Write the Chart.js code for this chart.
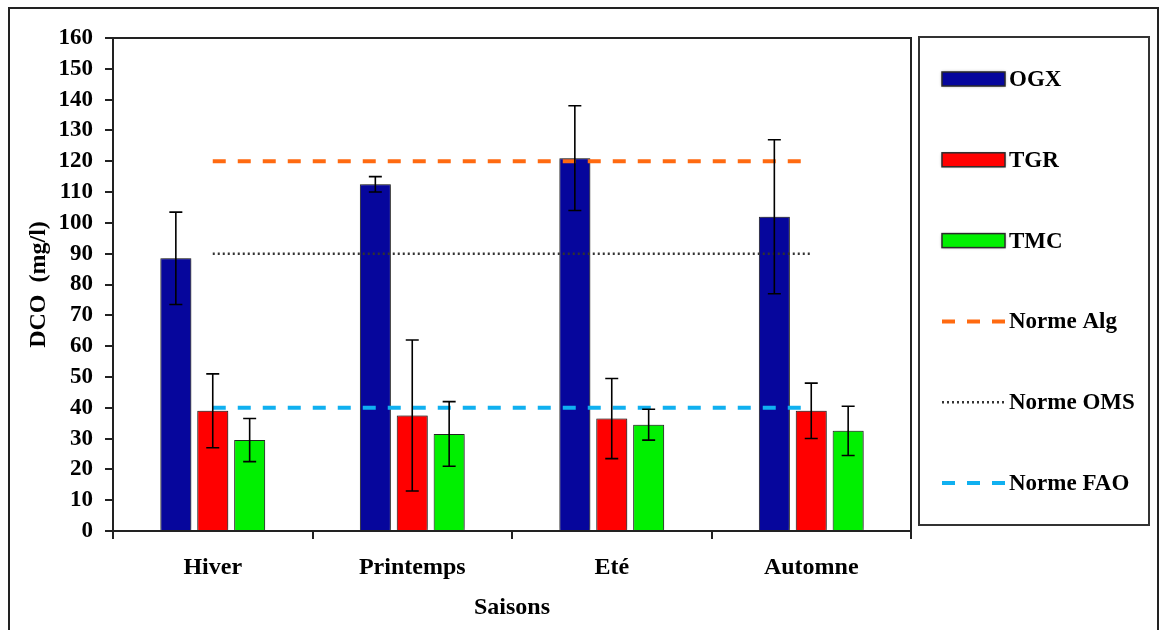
<!DOCTYPE html>
<html>
<head>
<meta charset="utf-8">
<script src="https://cdn.jsdelivr.net/npm/chart.js@4.4.1/dist/chart.umd.min.js"></script>
<style>
  body { margin: 0; background: #fff; }
  #frame { position: absolute; left: 8px; top: 7px; width: 1147px; height: 640px; border: 2px solid #222; }
  #chart { position: absolute; left: 0; top: 0; }
</style>
</head>
<body>
<div id="frame"></div>
<canvas id="chart" width="1161" height="630"></canvas>
<script>
const FONT = "'Liberation Serif', 'Times New Roman', serif";

const saisons = ['Hiver', 'Printemps', 'Eté', 'Automne'];
const yTicks = [0, 10, 20, 30, 40, 50, 60, 70, 80, 90, 100, 110, 120, 130, 140, 150, 160];

const ogx = [88.5, 112.5, 121, 102];
const tgr = [39, 37.5, 36.5, 39];
const tmc = [29.5, 31.5, 34.5, 32.5];

// écarts-types
const errOgx = [15, 2.5, 17, 25];
const errTgr = [12, 24.5, 13, 9];
const errTmc = [7, 10.5, 5, 8];

const normeAlg = [120, 120, 120, 120];
const normeOms = [90, 90, 90, 90];
const normeFao = [40, 40, 40, 40];

const barSet = (label, data, err, color) => ({
  type: 'bar', label, data, err,
  backgroundColor: color, borderColor: '#2a2a2a', borderWidth: 1,
  categoryPercentage: 0.555, barPercentage: 0.84, order: 2
});

const lineSet = (label, data, color, width, dash) => ({
  type: 'line', label, data,
  borderColor: color, backgroundColor: color, borderWidth: width, borderDash: dash,
  pointRadius: 0, fill: false, order: 1
});

const datasets = [
  barSet('OGX', ogx, errOgx, '#06069c'),
  barSet('TGR', tgr, errTgr, '#ff0000'),
  barSet('TMC', tmc, errTmc, '#00f000'),
  lineSet('Norme Alg', normeAlg, '#ff6a10', 4, [13, 12]),
  lineSet('Norme OMS', normeOms, '#333333', 2.5, [2, 3]),
  lineSet('Norme FAO', normeFao, '#10b0f0', 4, [13, 12])
];

// ombre douce sous les barres
const barShadow = {
  id: 'barShadow',
  beforeDatasetDraw(chart, args) {
    if (args.meta.type !== 'bar') return;
    const ctx = chart.ctx;
    ctx.save();
    ctx.shadowColor = 'rgba(0,0,0,0.45)';
    ctx.shadowBlur = 4;
    ctx.shadowOffsetX = 1;
    ctx.shadowOffsetY = 0;
  },
  afterDatasetDraw(chart, args) {
    if (args.meta.type === 'bar') chart.ctx.restore();
  }
};

// cadre haut/droite de la zone de tracé
const plotFrame = {
  id: 'plotFrame',
  beforeDatasetsDraw(chart) {
    const { ctx, chartArea: a } = chart;
    ctx.save();
    ctx.strokeStyle = '#222';
    ctx.lineWidth = 2;
    ctx.beginPath();
    ctx.moveTo(a.left, a.top);
    ctx.lineTo(a.right, a.top);
    ctx.lineTo(a.right, a.bottom);
    ctx.stroke();
    ctx.restore();
  }
};

const errorBars = {
  id: 'errorBars',
  afterDatasetsDraw(chart) {
    const { ctx, scales: { y } } = chart;
    ctx.save();
    ctx.strokeStyle = '#000';
    ctx.lineWidth = 1.6;
    chart.data.datasets.forEach((ds, i) => {
      if (!ds.err) return;
      chart.getDatasetMeta(i).data.forEach((bar, j) => {
        const v = ds.data[j], e = ds.err[j];
        const yt = y.getPixelForValue(v + e), yb = y.getPixelForValue(v - e);
        const x = bar.x, cap = 6.5;
        ctx.beginPath();
        ctx.moveTo(x, yt); ctx.lineTo(x, yb);
        ctx.moveTo(x - cap, yt); ctx.lineTo(x + cap, yt);
        ctx.moveTo(x - cap, yb); ctx.lineTo(x + cap, yb);
        ctx.stroke();
      });
    });
    ctx.restore();
  }
};

// légende encadrée à droite
const boxLegend = {
  id: 'boxLegend',
  afterDraw(chart) {
    const ctx = chart.ctx;
    const bx = 919, by = 37, bw = 230, bh = 488;
    ctx.save();
    ctx.strokeStyle = '#333';
    ctx.lineWidth = 2;
    ctx.strokeRect(bx, by, bw, bh);
    ctx.font = 'bold 23px ' + FONT;
    ctx.textBaseline = 'middle';
    ctx.fillStyle = '#000';
    chart.data.datasets.forEach((ds, i) => {
      const cy = 79 + i * 80.8;
      const x0 = 942, x1 = 1005;
      ctx.save();
      if (ds.type === 'bar') {
        ctx.shadowColor = 'rgba(0,0,0,0.45)';
        ctx.shadowBlur = 3;
        ctx.fillStyle = ds.backgroundColor;
        ctx.fillRect(x0, cy - 7, x1 - x0, 14);
        ctx.shadowColor = 'transparent';
        ctx.strokeStyle = ds.borderColor;
        ctx.lineWidth = 1.5;
        ctx.strokeRect(x0, cy - 7, x1 - x0, 14);
      } else {
        ctx.strokeStyle = ds.borderColor;
        ctx.lineWidth = ds.borderWidth;
        ctx.setLineDash(ds.borderDash);
        ctx.beginPath();
        ctx.moveTo(x0, cy);
        ctx.lineTo(x1 + 2, cy);
        ctx.stroke();
      }
      ctx.restore();
      ctx.fillText(ds.label, 1009, cy + 1);
    });
    ctx.restore();
  }
};

new Chart(document.getElementById('chart'), {
  type: 'bar',
  data: { labels: saisons, datasets },
  plugins: [barShadow, plotFrame, errorBars, boxLegend],
  options: {
    responsive: false,
    animation: false,
    layout: { padding: { top: 38, right: 250, left: 0, bottom: 0 } },
    plugins: { legend: { display: false }, tooltip: { enabled: false } },
    scales: {
      x: {
        afterFit: s => { s.height = 99; },
        grid: { offset: true, drawOnChartArea: false, color: '#222', lineWidth: 2, tickLength: 8 },
        border: { color: '#222', width: 2 },
        ticks: { color: '#000', padding: 14, font: { family: FONT, size: 24, weight: 'bold' } },
        title: { display: true, text: 'Saisons', color: '#000', padding: { top: 0, bottom: 8 },
                 font: { family: FONT, size: 24, weight: 'bold' } }
      },
      y: {
        min: 0, max: 160,
        afterFit: s => { s.width = 113; },
        afterBuildTicks: s => { s.ticks = yTicks.map(value => ({ value })); },
        grid: { drawOnChartArea: false, color: '#222', lineWidth: 2, tickLength: 8 },
        border: { color: '#222', width: 2 },
        ticks: { color: '#000', padding: 12, font: { family: FONT, size: 23, weight: 'bold' } },
        title: { display: true, text: 'DCO  (mg/l)', color: '#000', padding: { top: 24, bottom: 0 },
                 font: { family: FONT, size: 24, weight: 'bold' } }
      }
    }
  }
});
</script>
</body>
</html>
